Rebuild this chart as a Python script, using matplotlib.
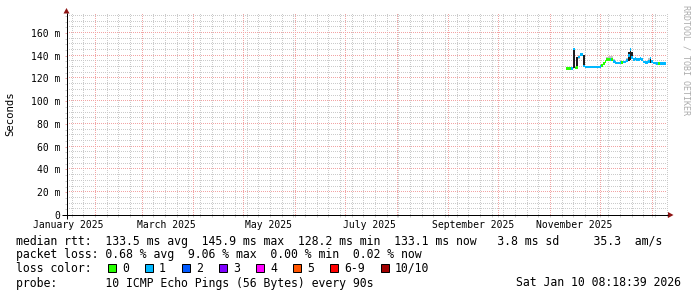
import matplotlib
matplotlib.use("Agg")
import matplotlib.pyplot as plt
import matplotlib.dates as mdates
from matplotlib.patches import Rectangle, Polygon
import numpy as np
import pandas as pd

W, H = 697, 297

# samples: one per day, first one starts at sampleStart
sampleStart = "2025-11-11 08:00"
medianMs = [129.0, 128.8, 128.8, 129.0, 145.9, 129.2, 129.5, 139.0, 141.0, 141.0,
            131.0, 130.2, 130.0, 130.0, 130.0, 130.2, 130.0, 130.0, 130.0, 130.2,
            130.5, 131.5, 133.0, 135.0, 136.5, 137.0, 137.0, 137.0, 135.0, 134.0,
            133.5, 133.5, 134.0, 134.0, 134.5, 134.5, 135.5, 140.0, 145.5, 138.5,
            137.0, 137.5, 137.0, 137.0, 137.5, 137.0, 134.5, 134.0, 134.0, 135.0,
            138.0, 135.0, 133.5, 133.5, 133.0, 133.0, 133.0, 133.0, 133.2, 133.0]
lossCount = [0, 0, 0, 1, 1, 0, 0, 1, 1, 1,
             1, 1, 1, 1, 1, 1, 1, 1, 1, 1,
             1, 0, 0, 0, 0, 0, 1, 0, 1, 1,
             1, 1, 1, 0, 1, 1, 1, 1, 1, 1,
             1, 1, 1, 1, 1, 1, 1, 1, 1, 1,
             1, 1, 1, 1, 1, 0, 1, 1, 1, 1]
smokeLowMs = [128.6, 128.4, 128.4, 128.5, 129.0, 128.6, 129.0, 137.5, 139.5, 139.5,
              130.0, 129.6, 129.5, 129.5, 129.5, 129.5, 129.4, 129.4, 129.5, 129.6,
              129.8, 130.8, 132.0, 134.0, 135.5, 136.0, 136.0, 136.0, 134.0, 133.0,
              132.8, 132.8, 133.0, 133.2, 133.5, 133.8, 134.5, 135.0, 136.0, 137.0,
              136.2, 136.5, 136.2, 136.0, 136.5, 136.0, 133.8, 133.2, 133.2, 134.0,
              134.0, 134.0, 132.8, 132.8, 132.5, 132.4, 132.4, 132.4, 132.5, 132.4]
smokeHighMs = [129.6, 129.4, 129.6, 130.0, 147.0, 130.0, 139.0, 141.0, 142.0, 142.0,
               141.0, 131.0, 130.8, 131.0, 131.2, 131.0, 131.3, 131.0, 131.2, 131.0,
               131.4, 132.5, 134.0, 136.5, 138.5, 139.5, 139.5, 139.5, 137.0, 135.0,
               134.5, 134.5, 135.0, 135.0, 135.5, 135.5, 138.0, 143.0, 147.0, 143.0,
               138.0, 138.5, 138.0, 138.0, 138.5, 138.0, 135.5, 135.0, 135.2, 138.0,
               139.0, 136.0, 134.8, 134.5, 134.5, 134.0, 134.5, 134.0, 134.5, 134.0]

lossLabels = ["0", "1", "2", "3", "4", "5", "6-9", "10/10"]
lossColors = ["#26ff00", "#00b8ff", "#0059ff", "#7e00ff",
              "#ff00ff", "#ff5500", "#ff0000", "#a10000"]

monthLabels = ["January 2025", "March 2025", "May 2025",
               "July 2025", "September 2025", "November 2025"]
monthLabelDates = ["2025-01-16 06:00", "2025-03-16 06:00", "2025-05-16 06:00",
                   "2025-07-16 06:00", "2025-09-16 06:00", "2025-11-16 06:00"]
yTicksMs = [0, 20, 40, 60, 80, 100, 120, 140, 160]

statsLine = ("median rtt:  133.5 ms avg  145.9 ms max  128.2 ms min  "
             "133.1 ms now   3.8 ms sd     35.3  am/s")
lossLine = "packet loss: 0.68 % avg  9.06 % max  0.00 % min  0.02 % now"
probeLine = "probe:       10 ICMP Echo Pings (56 Bytes) every 90s"
stampText = "Sat Jan 10 08:18:39 2026"

graphEnd = pd.Timestamp("2026-01-10 08:18:39")
graphStart = graphEnd - pd.Timedelta(days=360)
Y_TOP = 178

MAJOR_COL = "#f2a4a4"
MINOR_COL = "#cbcbcb"
PX = 0.72  # one pixel in points at 100 dpi
PLOT_W, PLOT_H = 600, 202.5  # plot area in pixels

plt.rcParams["font.family"] = ["DejaVu Sans Mono"]

fig = plt.figure(figsize=(W / 100, H / 100), dpi=100)
fig.patch.set_facecolor("white")
ax = fig.add_axes([66.5 / W, 1 - 215 / H, PLOT_W / W, PLOT_H / H])
x0, x1 = mdates.date2num(graphStart), mdates.date2num(graphEnd)
ax.set_xlim(x0, x1)
ax.set_ylim(0, Y_TOP)
for s in ax.spines.values():
    s.set_visible(False)

# dotted grid drawn as single pixels, one every second pixel
dotX = np.arange(x0, x1, 2 * (x1 - x0) / PLOT_W)
dotY = np.arange(0, Y_TOP, 2 * Y_TOP / PLOT_H)


def hDots(y, col, z):
    ax.plot(dotX, np.full_like(dotX, y), ",", color=col, zorder=z)


def vDots(x, col, z):
    ax.plot(np.full_like(dotY, x), dotY, ",", color=col, zorder=z)


for y in range(5, Y_TOP, 5):
    if y % 20:
        hDots(y, MINOR_COL, 1)
weeks = pd.date_range(graphStart, graphEnd, freq="W-SAT")
months = pd.date_range(graphStart, graphEnd, freq="MS")
for d in weeks:
    vDots(mdates.date2num(d), MINOR_COL, 1)
for y in yTicksMs[1:]:
    hDots(y, MAJOR_COL, 2)
for d in months:
    vDots(mdates.date2num(d), MAJOR_COL, 2)

# smoke and median
dates = mdates.date2num(pd.date_range(sampleStart, periods=len(medianMs), freq="D"))
smokeCols = ["#1e1e1e" if hi - lo > 4 else "#c4c4c4"
             for lo, hi in zip(smokeLowMs, smokeHighMs)]
ax.bar(dates, [hi - lo for lo, hi in zip(smokeLowMs, smokeHighMs)], bottom=smokeLowMs,
       width=1.0, align="edge", color=smokeCols, linewidth=0, zorder=3)


def lossIndex(n):
    if n <= 5:
        return n
    return 6 if n < 10 else 7


medCols = [lossColors[lossIndex(n)] for n in lossCount]
ax.bar(dates, 2.4, bottom=[m - 1.2 for m in medianMs], width=1.0, align="edge",
       color=medCols, linewidth=0, zorder=4)

# ticks
ax.set_yticks(yTicksMs, labels=["0"] + [f"{v} m" for v in yTicksMs[1:]])
ax.set_yticks([y for y in range(5, Y_TOP, 5) if y % 20], minor=True)
ax.tick_params(axis="y", which="major", length=2 * PX, width=PX, color=MAJOR_COL,
               pad=3, labelsize=7)
ax.tick_params(axis="y", which="minor", length=2 * PX, width=PX, color=MINOR_COL)
ax.set_xticks(mdates.date2num(pd.to_datetime(monthLabelDates)), labels=monthLabels)
ax.set_xticks(mdates.date2num(weeks.union(months)), minor=True)
ax.tick_params(axis="x", which="major", length=0, pad=3.5, labelsize=7)
ax.tick_params(axis="x", which="minor", length=2 * PX, width=PX, color=MINOR_COL)

# overlay in pixel coordinates for axis lines, arrows and legend
ov = fig.add_axes([0, 0, 1, 1], zorder=5)
ov.set_xlim(0, W)
ov.set_ylim(H, 0)
ov.axis("off")
ov.patch.set_alpha(0)
ov.plot([62, 668], [215, 215], color="black", lw=PX, solid_capstyle="butt")
ov.plot([66.5, 66.5], [219, 13], color="black", lw=PX, solid_capstyle="butt")
ov.add_patch(Polygon([(668, 212), (673.5, 215), (668, 218)], closed=True,
                     color="#8e1414", lw=0))
ov.add_patch(Polygon([(63.5, 13.5), (66.5, 8), (69.5, 13.5)], closed=True,
                     color="#8e1414", lw=0))

fig.text(10.7 / W, 1 - 114 / H, "Seconds", rotation=90, ha="center", va="center",
         fontsize=7.7)
fig.text(686 / W, 1 - 60 / H, "RRDTOOL / TOBI OETIKER", rotation=270, ha="center",
         va="center", fontsize=6, color="#ababab")

fs = 8.3
fig.text(16 / W, 1 - 241 / H, statsLine, ha="left", va="center", fontsize=fs)
fig.text(16 / W, 1 - 254.5 / H, lossLine, ha="left", va="center", fontsize=fs)
fig.text(16 / W, 1 - 268 / H, "loss color:", ha="left", va="center", fontsize=fs)
boxX = 108
for lab, col in zip(lossLabels, lossColors):
    ov.add_patch(Rectangle((boxX, 264), 8, 8, facecolor=col, edgecolor="black", lw=PX))
    fig.text((boxX + 14) / W, 1 - 268 / H, lab, ha="left", va="center", fontsize=fs)
    boxX += 30 + 7 * len(lab)
fig.text(16 / W, 1 - 283 / H, probeLine, ha="left", va="center", fontsize=fs)
fig.text(681 / W, 1 - 283 / H, stampText, ha="right", va="center", fontsize=fs)

fig.savefig("out.png", dpi=100, facecolor="white")
